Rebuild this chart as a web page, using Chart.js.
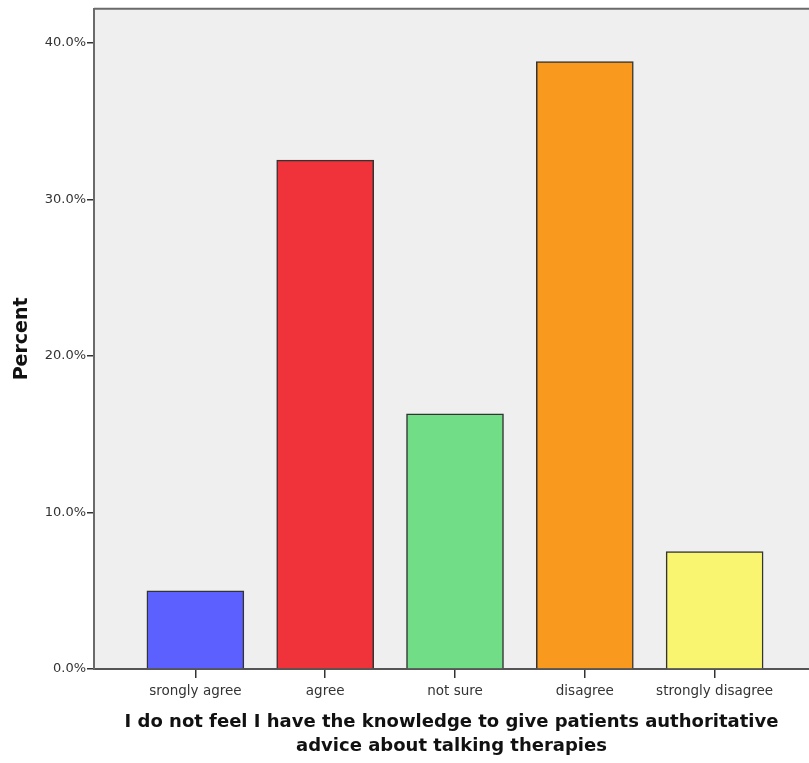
<!DOCTYPE html>
<html>
<head>
<meta charset="utf-8">
<script src="https://cdn.jsdelivr.net/npm/chart.js@4"></script>
<style>
  html, body { margin: 0; padding: 0; background: #ffffff; overflow: hidden; }
  #wrap { width: 809px; height: 763px; }
</style>
</head>
<body>
<div id="wrap"><canvas id="c" width="809" height="763"></canvas></div>
<script>
const categories = ["srongly agree", "agree", "not sure", "disagree", "strongly disagree"];
const percents = [5.0, 32.5, 16.3, 38.8, 7.5];
const yTicks = [0, 10, 20, 30, 40];
const barColors = ["#5B60FE", "#F0323A", "#71DD86", "#F9991E", "#F9F570"];
const xTitle = ["I do not feel I have the knowledge to give patients authoritative", "advice about talking therapies"];
const yTitle = "Percent";

const tickFont = { family: "'DejaVu Sans', sans-serif", size: 13.5 };
const titleFont = { family: "'DejaVu Sans', sans-serif", size: 18, weight: "bold", lineHeight: 1.33 };

const plotFrame = {
  id: "plotFrame",
  beforeDraw(chart) {
    const { ctx, chartArea: a } = chart;
    ctx.save();
    ctx.fillStyle = "#EFEFEF";
    ctx.fillRect(a.left, a.top, a.right - a.left, a.bottom - a.top);
    ctx.strokeStyle = "#6a6a6a";
    ctx.lineWidth = 2;
    ctx.beginPath();
    ctx.moveTo(a.left, a.top);
    ctx.lineTo(a.right + 2, a.top);
    ctx.stroke();
    ctx.restore();
  }
};

new Chart(document.getElementById("c"), {
  type: "bar",
  data: {
    datasets: [{
      data: percents.map((v, i) => ({ x: i, y: v })),
      backgroundColor: barColors,
      borderColor: "#333333",
      borderWidth: 1.5,
      barThickness: 97
    }]
  },
  options: {
    responsive: false,
    animation: false,
    layout: { padding: { top: 8, left: 0, right: 0, bottom: 0 } },
    plugins: { legend: { display: false }, tooltip: { enabled: false } },
    scales: {
      x: {
        type: "linear",
        offset: false,
        min: -0.781,
        max: 4.727,
        afterBuildTicks: s => { s.ticks = categories.map((c, i) => ({ value: i })); },
        afterFit: s => { s.height = 94; },
        grid: { offset: false, drawOnChartArea: false, drawTicks: true, tickLength: 9, color: "#333333", lineWidth: 1.5 },
        border: { display: true, color: "#555555", width: 2 },
        ticks: {
          autoSkip: false,
          maxRotation: 0,
          padding: 5,
          color: "#333333",
          font: tickFont,
          callback: v => categories[v] !== undefined ? categories[v] : ""
        },
        title: {
          display: true,
          text: xTitle,
          color: "#111111",
          font: titleFont,
          padding: { top: 0, bottom: 5 }
        }
      },
      y: {
        min: 0,
        max: 42.17,
        afterBuildTicks: s => { s.ticks = yTicks.map(v => ({ value: v })); },
        afterFit: s => { s.width = 94; },
        grid: { drawOnChartArea: false, drawTicks: true, tickLength: 7, color: "#333333", lineWidth: 1.5 },
        border: { display: true, color: "#6a6a6a", width: 2 },
        ticks: {
          padding: 1,
          color: "#333333",
          font: { family: "'DejaVu Sans', sans-serif", size: 13 },
          callback: v => Number(v).toFixed(1) + "%"
        },
        title: {
          display: true,
          text: yTitle,
          color: "#111111",
          font: { family: "'DejaVu Sans', sans-serif", size: 19, weight: "bold", lineHeight: 1.2 },
          padding: { top: 11, bottom: 0 }
        }
      }
    }
  },
  plugins: [plotFrame]
});
</script>
</body>
</html>
